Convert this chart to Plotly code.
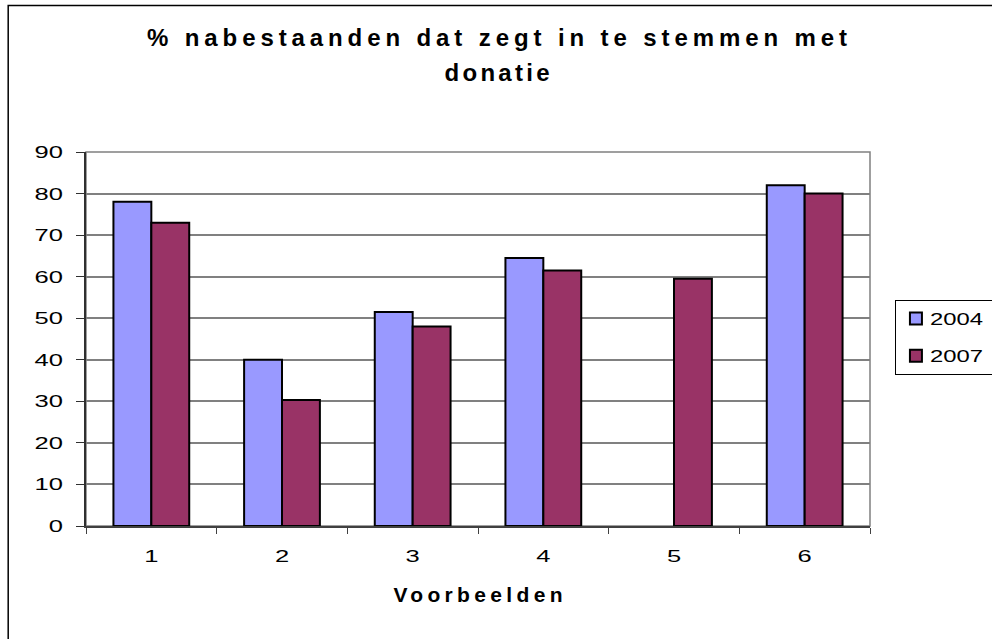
import plotly.graph_objects as go

categories = ["1", "2", "3", "4", "5", "6"]
values_2004 = [78, 40, 51.5, 64.5, None, 82]
values_2007 = [73, 30.3, 48, 61.5, 59.5, 80]
series_names = ["2004", "2007"]
y_ticks = [0, 10, 20, 30, 40, 50, 60, 70, 80, 90]

title_text = "% nabestaanden dat zegt in te stemmen met<br>donatie"
x_title = "Voorbeelden"

FONT = "Liberation Sans, Arial, sans-serif"

fig = go.Figure()
fig.add_trace(go.Bar(
    x=categories, y=values_2004, name=series_names[0], legendgroup="a",
    marker=dict(color="#9999FF", line=dict(color="#000000", width=2)),
))
fig.add_trace(go.Bar(
    x=categories, y=values_2007, name=series_names[1], legendgroup="b",
    marker=dict(color="#993366", line=dict(color="#000000", width=2)),
))

W, H = 992, 639
ml, mr, mt, mb = 86, 120, 152, 113
pw = W - ml - mr
ph = H - mt - mb

def px_x(px):
    return (px - ml) / pw

def px_y(py):
    return (H - mb - py) / ph

fig.update_layout(
    width=W, height=H,
    margin=dict(l=ml, r=mr, t=mt, b=mb, pad=0),
    paper_bgcolor="white", plot_bgcolor="white",
    font=dict(family=FONT, size=17, color="black"),
    barmode="group", bargap=0.42, bargroupgap=0,
    title=dict(
        text=title_text,
        x=497 / W, xanchor="center",
        y=1 - 46 / H, yanchor="top", yref="container",
        font=dict(family=FONT, size=24, color="black", weight="bold"),
    ),
    xaxis=dict(
        type="category",
        showgrid=False,
        showline=True, linecolor="#404040", linewidth=1.5,
        ticks="outside", tickson="boundaries", ticklen=6, tickcolor="#404040",
        tickfont=dict(size=17),
        ticklabelstandoff=14,
        title=dict(text=x_title, font=dict(family=FONT, size=21, weight="bold"), standoff=22),
    ),
    yaxis=dict(
        range=[0, 90], tickvals=y_ticks,
        showgrid=True, gridcolor="#808080", gridwidth=1.5,
        showline=True, linecolor="#303030", linewidth=1.5,
        ticks="outside", ticklen=8, tickcolor="#303030",
        tickfont=dict(size=17),
        ticklabelstandoff=10,
        zeroline=False,
    ),
    legend=dict(
        x=px_x(897), y=px_y(300), xanchor="left", yanchor="top",
        bordercolor="#000000", borderwidth=1, bgcolor="white",
        font=dict(family=FONT, size=17),
        tracegroupgap=12,
    ),
    showlegend=True,
    shapes=[
        dict(type="rect", xref="paper", yref="paper",
             x0=0, x1=1, y0=0, y1=1,
             line=dict(color="#808080", width=1.5), layer="below"),
        dict(type="rect", xref="paper", yref="paper",
             x0=px_x(8), x1=px_x(1010), y0=px_y(660), y1=px_y(5.5),
             line=dict(color="#000000", width=1.5), layer="below"),
    ],
)

# The reference picture is stretched horizontally: titles get wide letter
# spacing, small labels get widened glyphs. Also remove the page margin.
post_script = """
document.body.style.margin = '0';
var gd = document.getElementById('{plot_id}');
function fit(el, target, mode) {
  var len = el.getComputedTextLength();
  if (len > 0) {
    el.setAttribute('textLength', target);
    el.setAttribute('lengthAdjust', mode);
  }
}
function stretch(el, f) {
  var len = el.getComputedTextLength();
  if (len > 0) { fit(el, len * f, 'spacingAndGlyphs'); }
}
var lines = gd.querySelectorAll('.gtitle tspan.line');
var titleWidths = [700, 105];
lines.forEach(function(t, i){
  if (i > 0) { t.setAttribute('dy', '1.45em'); }
  fit(t, titleWidths[i] || t.getComputedTextLength(), 'spacing');
});
gd.querySelectorAll('.xtitle').forEach(function(t){ fit(t, 169, 'spacing'); });
gd.querySelectorAll('.xtick text, .ytick text').forEach(function(t){ stretch(t, 1.5); });
gd.querySelectorAll('.legend [clip-path]').forEach(function(e){ e.removeAttribute('clip-path'); });
gd.querySelectorAll('.legend rect.bg').forEach(function(r){
  r.setAttribute('width', parseFloat(r.getAttribute('width')) + 120);
});
gd.querySelectorAll('.legendtext').forEach(function(t){
  t.setAttribute('x', parseFloat(t.getAttribute('x')) - 6);
  stretch(t, 1.4);
});
"""

fig.write_html("out.html", post_script=post_script, config={"displayModeBar": False})
